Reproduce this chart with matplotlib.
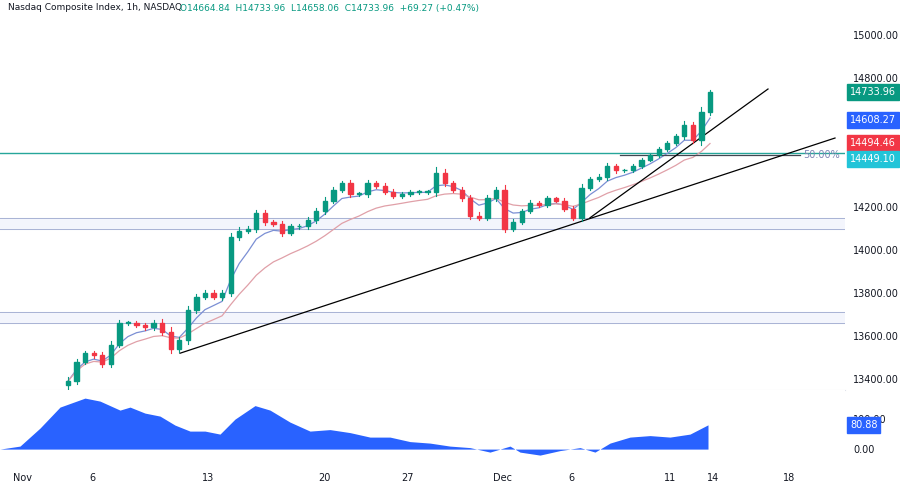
import matplotlib
matplotlib.use("Agg")
import matplotlib.pyplot as plt
import numpy as np
import pandas as pd
from matplotlib.patches import Rectangle

closes = [13390,13480,13520,13510,13470,13560,13660,13660,13650,13640,13660,13620,13540,13580,13720,13780,
          13800,13780,13800,14060,14090,14100,14170,14130,14120,14080,14110,14110,14140,14180,14230,14280,
          14310,14260,14260,14310,14300,14270,14250,14260,14270,14270,14270,14360,14310,14280,14240,14160,
          14150,14240,14280,14100,14130,14180,14220,14210,14240,14230,14190,14150,14290,14330,14340,14390,
          14370,14370,14390,14420,14440,14470,14500,14530,14580,14510,14640,14733.96]
wicks = [30,25,20,20,25,30,25,20,20,20,25,30,40,25,30,25,20,20,25,30,25,20,30,25,20,25,20,20,20,25,25,25,
         20,25,20,25,20,20,20,20,15,15,15,40,25,20,25,30,25,25,20,35,25,20,20,15,20,15,20,25,30,20,20,25,
         20,15,15,15,15,15,15,20,30,25,40,20]
osc_x = [0,20,40,60,85,100,120,130,145,160,175,190,205,220,235,255,270,290,310,330,350,370,390,410,430,450,
         470,490,510,520,540,560,580,595,610,630,650,670,690,708]
osc_v = [0,10,70,140,170,160,130,140,120,110,80,60,60,50,100,145,130,90,60,65,55,40,40,25,20,10,5,-10,10,
         -10,-20,-5,5,-10,20,40,45,40,50,80.88]
tick_labels = ["Nov","6","13","20","27","Dec","6","11","14","18"]
tick_px = [22,92,208,324,408,503,571,670,713,789]
yticks = [13400,13600,13800,14000,14200,14400,14600,14800,15000]
price_labels = [14733.96, 14608.27, 14494.46, 14449.10]

N = len(closes)
x0px, x1px = 68, 710
step = (x1px - x0px) / (N - 1)
def px2i(p):
    return (p - x0px) / step

opens = [closes[0] - 20] + closes[:-1]
ema_fast = pd.Series(closes).ewm(span=5).mean()
ema_slow = pd.Series(closes).ewm(span=14).mean()

fig = plt.figure(figsize=(9, 4.82), dpi=100)
W, H = 900, 482
ax = fig.add_axes([0, 1 - 390 / H, 845 / W, 390 / H])
ax2 = fig.add_axes([0, 20 / H, 845 / W, 72 / H], sharex=ax)

up, dn = "#089981", "#f23645"
for i in range(N):
    o, c = opens[i], closes[i]
    col = up if c >= o else dn
    hi, lo = max(o, c) + wicks[i] * 0.6, min(o, c) - wicks[i] * 0.5
    ax.plot([i, i], [lo, hi], color=col, lw=0.8, zorder=3)
    ax.add_patch(Rectangle((i - 0.25, min(o, c)), 0.5, max(abs(c - o), 3), color=col, zorder=4))
xs = np.arange(N)
ax.plot(xs, ema_fast, color="#7b8fd4", lw=0.9, zorder=2)
ax.plot(xs, ema_slow, color="#e0a0a8", lw=0.9, zorder=2)

ax.set_xlim(px2i(0), px2i(845))
ax.set_ylim(13349, 15163)
for a, b in [(14100, 14150), (13660, 13710)]:
    ax.axhspan(a, b, color="#f3f5fc", zorder=0)
    ax.axhline(a, color="#a8b2d4", lw=0.7, zorder=1)
    ax.axhline(b, color="#a8b2d4", lw=0.7, zorder=1)
ax.axhline(14449.10, color="#26a69a", lw=1.0, zorder=1)
ax.plot([px2i(620), px2i(800)], [14440, 14440], color="#434651", lw=0.9)
ax.text(px2i(803), 14440, "50.00%", color="#7f86b5", fontsize=7, va="center")
ax.plot([px2i(180), px2i(835)], [13520, 14521], color="black", lw=0.9)
ax.plot([px2i(590), px2i(768)], [14150, 14749], color="black", lw=0.9)

ax.yaxis.tick_right()
ax.set_yticks(yticks)
ax.set_yticklabels([f"{v:.2f}" for v in yticks])
ax.tick_params(axis="y", length=0, labelsize=7, labelcolor="#131722", pad=6)
ax.tick_params(axis="x", bottom=False, labelbottom=False)
for s in ["top", "left", "right", "bottom"]:
    ax.spines[s].set_visible(False)
ax.spines["bottom"].set_visible(True)
ax.spines["bottom"].set_color("#e0e3eb")

label_offsets = [0, -3, 4, -24]
for val, off, col in zip(price_labels, label_offsets, [up, "#2962ff", dn, "#22c4d8"]):
    ax.text(1.006, val + off, f"{val:.2f}", transform=ax.get_yaxis_transform(), color="white",
            fontsize=7, va="center", ha="left",
            bbox=dict(boxstyle="square,pad=0.3", fc=col, ec=col), zorder=10)

fig.text(8 / W, 1 - 8 / H, "Nasdaq Composite Index, 1h, NASDAQ", fontsize=6.5, color="#131722", va="center")
fig.text(180 / W, 1 - 8 / H, "O14664.84  H14733.96  L14658.06  C14733.96  +69.27 (+0.47%)",
         fontsize=6.5, color="#089981", va="center")

ox = [px2i(p) for p in osc_x]
ax2.fill_between(ox, osc_v, 0, color="#2962ff", lw=0)
ax2.set_ylim(-43, 197)
ax2.yaxis.tick_right()
ax2.set_yticks([0, 100])
ax2.set_yticklabels(["0.00", "100.00"])
ax2.tick_params(axis="y", length=0, labelsize=7, labelcolor="#131722", pad=6)
ax2.text(1.006, 80.88, "80.88", transform=ax2.get_yaxis_transform(), color="white",
         fontsize=7, va="center", ha="left",
         bbox=dict(boxstyle="square,pad=0.3", fc="#2962ff", ec="#2962ff"))
for s in ["top", "left", "right", "bottom"]:
    ax2.spines[s].set_visible(False)
ax2.set_xticks([px2i(p) for p in tick_px])
ax2.set_xticklabels(tick_labels)
ax2.tick_params(axis="x", length=0, labelsize=7, labelcolor="#131722", pad=8)

fig.savefig("out.png", dpi=100)
